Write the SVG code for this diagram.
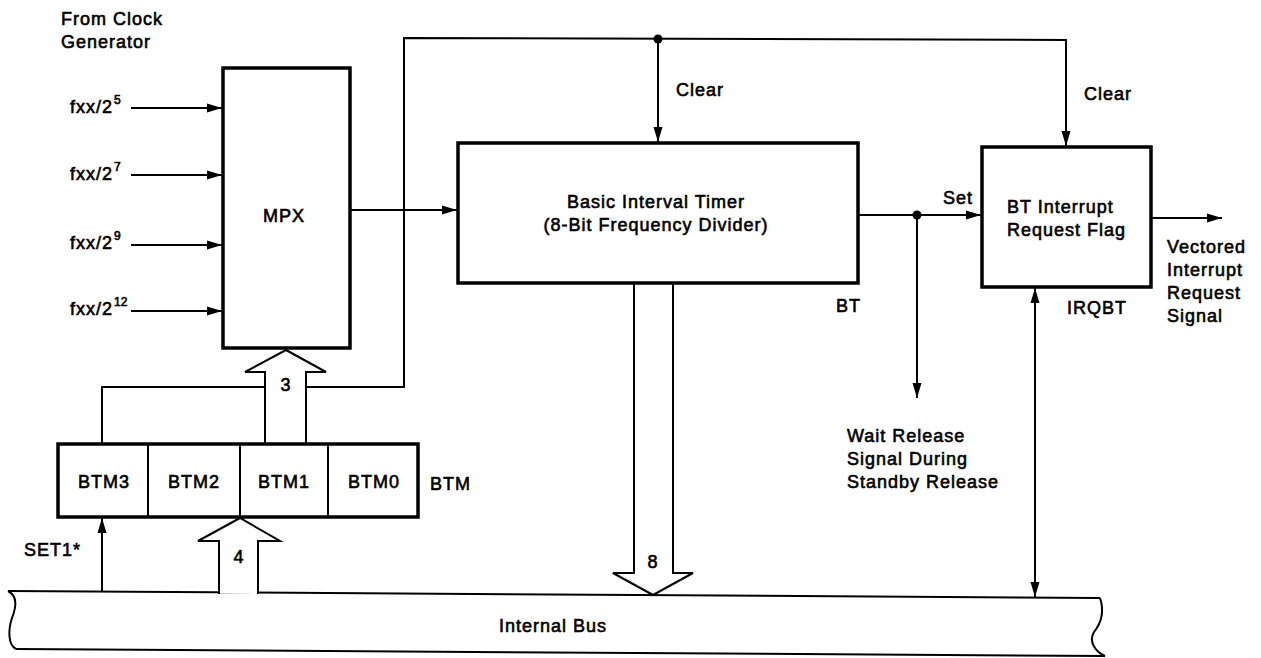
<svg xmlns="http://www.w3.org/2000/svg" width="1261" height="658" viewBox="0 0 1261 658">
<style>
text{font-family:"Liberation Sans",Arial,sans-serif;font-size:18px;letter-spacing:1px;fill:#000;stroke:#000;stroke-width:0.6px}
.sup{font-size:12px;letter-spacing:0}
.c{text-anchor:middle}
.box{fill:#fff;stroke:#000;stroke-width:3.5}
.cell{fill:none;stroke:#000;stroke-width:2}
.ln{fill:none;stroke:#000;stroke-width:2}
.hol{fill:#fff;stroke:#000;stroke-width:2;stroke-linejoin:miter}
</style>
<defs>
<marker id="ah" markerUnits="userSpaceOnUse" markerWidth="16" markerHeight="12" refX="15" refY="6" orient="auto-start-reverse">
<path d="M0,1.5 L15,6 L0,10.5 Z" fill="#000"/>
</marker>
</defs>

<g id="labels-clock">
<text x="61" y="25">From Clock</text>
<text x="61" y="48">Generator</text>
<text x="70" y="113">fxx/2</text><text class="sup" x="114" y="104">5</text>
<text x="70" y="180">fxx/2</text><text class="sup" x="114" y="171">7</text>
<text x="70" y="249">fxx/2</text><text class="sup" x="114" y="240">9</text>
<text x="70" y="315">fxx/2</text><text class="sup" x="114" y="306">12</text>
</g>

<g id="bus">
<path class="ln" d="M8 591 L1100 598"/>
<path class="ln" d="M16 649 L1105 656"/>
<path class="ln" d="M8 591 C18 596,16 608,12 618 C8 630,8 645,16 649"/>
<path class="ln" d="M1100 598 C1104 610,1102 622,1094 632 C1088 642,1096 652,1105 656"/>
<text x="499" y="632">Internal Bus</text>
</g>

<g id="connectors">
<line class="ln" x1="131" y1="108" x2="222" y2="108" marker-end="url(#ah)"/>
<line class="ln" x1="131" y1="175" x2="222" y2="175" marker-end="url(#ah)"/>
<line class="ln" x1="131" y1="245" x2="222" y2="245" marker-end="url(#ah)"/>
<line class="ln" x1="131" y1="311" x2="222" y2="311" marker-end="url(#ah)"/>
<line class="ln" x1="350" y1="210" x2="457" y2="210" marker-end="url(#ah)"/>
<polyline class="ln" points="102,444 102,387 265,387"/>
<polyline class="ln" points="306,387 404,387 404,38 1066,40 1066,146" marker-end="url(#ah)"/>
<line class="ln" x1="658" y1="39" x2="658" y2="142" marker-end="url(#ah)"/>
<circle cx="658" cy="39" r="4.5" fill="#000"/>
<line class="ln" x1="858" y1="215" x2="981" y2="215" marker-end="url(#ah)"/>
<circle cx="917" cy="215" r="4.5" fill="#000"/>
<line class="ln" x1="917" y1="215" x2="917" y2="398" marker-end="url(#ah)"/>
<line class="ln" x1="1151" y1="218" x2="1222" y2="218" marker-end="url(#ah)"/>
<line class="ln" x1="1035" y1="288" x2="1035" y2="597" marker-start="url(#ah)" marker-end="url(#ah)"/>
<line class="ln" x1="102" y1="591" x2="102" y2="518" marker-end="url(#ah)"/>
<polygon class="hol" points="265,444 265,372 245,372 286,350 326,372 306,372 306,444"/>
<polygon class="hol" points="634,283 634,573 613,573 653,595 693,573 673,573 673,283"/>
<polygon class="hol" points="219,593 219,541 198,541 240,518 280,541 258,541 258,593"/>
<line x1="220" y1="592.3" x2="257" y2="592.6" stroke="#fff" stroke-width="3"/>
<text class="c" x="286" y="391">3</text>
<text class="c" x="653" y="568">8</text>
<text class="c" x="239" y="563">4</text>
<text x="676" y="96">Clear</text>
<text x="1084" y="100">Clear</text>
<text x="943" y="204">Set</text>
<text x="24" y="556">SET1*</text>
<text x="847" y="442">Wait Release</text>
<text x="847" y="465">Signal During</text>
<text x="847" y="488">Standby Release</text>
<text x="1167" y="253">Vectored</text>
<text x="1167" y="276">Interrupt</text>
<text x="1167" y="299">Request</text>
<text x="1167" y="322">Signal</text>
</g>

<g id="mpx">
<rect class="box" x="223" y="68" width="127" height="280"/>
<text class="c" x="284" y="222">MPX</text>
</g>

<g id="bt">
<rect class="box" x="458" y="143" width="400" height="140"/>
<text class="c" x="656" y="208">Basic Interval Timer</text>
<text class="c" x="656" y="231">(8-Bit Frequency Divider)</text>
<text x="836" y="312">BT</text>
</g>

<g id="irqbt">
<rect class="box" x="982" y="147" width="169" height="140"/>
<text x="1007" y="213">BT Interrupt</text>
<text x="1007" y="236">Request Flag</text>
<text x="1067" y="314">IRQBT</text>
</g>

<g id="btm">
<rect class="box" x="58" y="444" width="360" height="73"/>
<line class="cell" x1="148" y1="444" x2="148" y2="517"/>
<line class="cell" x1="240" y1="444" x2="240" y2="517"/>
<line class="cell" x1="328" y1="444" x2="328" y2="517"/>
<text class="c" x="104" y="488">BTM3</text>
<text class="c" x="194" y="488">BTM2</text>
<text class="c" x="284" y="488">BTM1</text>
<text class="c" x="374" y="488">BTM0</text>
<text x="430" y="490">BTM</text>
</g>
</svg>
